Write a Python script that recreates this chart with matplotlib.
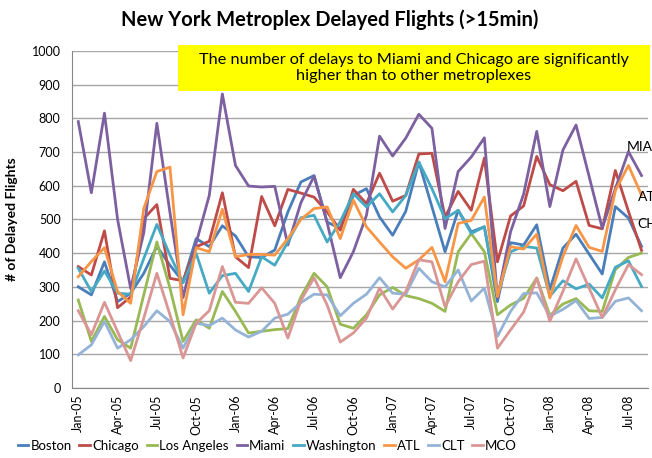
import matplotlib
matplotlib.use("Agg")
import matplotlib.pyplot as plt
from matplotlib.patches import Rectangle
import numpy as np

plt.rcParams['font.family'] = ['Lato', 'DejaVu Sans']

# monthly data, Jan-05 .. Aug-08
months = ['Jan', 'Feb', 'Mar', 'Apr', 'May', 'Jun', 'Jul', 'Aug', 'Sep', 'Oct', 'Nov', 'Dec']
labels = [m + '-' + y for y in ['05', '06', '07', '08'] for m in months][:44]

boston = [300, 276, 374, 256, 281, 340, 420, 364, 315, 443, 419, 481, 451, 389, 387, 409,
          522, 611, 630, 492, 473, 571, 591, 507, 453, 524, 670, 537, 404, 527, 463, 478,
          256, 431, 424, 484, 292, 415, 456, 397, 338, 538, 504, 420]
chicago = [360, 335, 466, 238, 270, 502, 544, 325, 318, 419, 435, 579, 389, 357, 568, 481,
           589, 578, 566, 522, 468, 589, 547, 637, 554, 571, 694, 696, 507, 583, 527, 682,
           374, 510, 540, 687, 603, 585, 613, 482, 472, 645, 524, 408]
los_angeles = [261, 138, 212, 143, 118, 276, 433, 296, 138, 202, 177, 286, 227, 163, 168, 173,
               176, 270, 340, 300, 189, 177, 217, 276, 298, 274, 265, 251, 227, 404, 458, 404,
               217, 246, 266, 326, 215, 249, 265, 229, 227, 351, 387, 400]
miami = [790, 579, 815, 500, 295, 460, 785, 520, 268, 430, 571, 872, 660, 599, 596, 598,
         424, 550, 628, 490, 327, 404, 512, 747, 688, 741, 812, 770, 473, 642, 685, 742,
         266, 463, 575, 761, 538, 706, 780, 627, 474, 591, 701, 630]
washington = [355, 286, 347, 281, 278, 384, 485, 394, 312, 399, 281, 333, 340, 286, 389, 364,
              433, 505, 512, 433, 493, 576, 537, 576, 522, 571, 670, 591, 502, 527, 458, 478,
              276, 404, 420, 415, 272, 318, 294, 308, 267, 358, 377, 301]
atl = [330, 375, 416, 286, 251, 532, 642, 655, 217, 416, 404, 530, 389, 396, 396, 394,
       443, 500, 532, 537, 443, 557, 478, 433, 389, 355, 380, 417, 315, 488, 497, 566,
       271, 419, 412, 456, 267, 390, 482, 417, 405, 585, 660, 572]
clt = [98, 128, 197, 118, 143, 182, 229, 197, 118, 192, 185, 207, 172, 151, 168, 207,
       219, 253, 278, 276, 214, 251, 278, 327, 281, 278, 355, 315, 300, 350, 258, 296,
       153, 227, 280, 282, 213, 233, 259, 206, 209, 257, 267, 229]
mco = [229, 158, 254, 167, 81, 207, 340, 217, 89, 192, 229, 360, 254, 251, 297, 251,
       148, 260, 327, 246, 136, 163, 207, 296, 234, 286, 380, 374, 241, 315, 366, 376,
       118, 172, 225, 326, 198, 287, 383, 296, 209, 291, 366, 336]

series = [('Boston', boston, '#4A7EBB'),
          ('Chicago', chicago, '#BE4B48'),
          ('Los Angeles', los_angeles, '#98B954'),
          ('Miami', miami, '#7D60A0'),
          ('Washington', washington, '#46AAC5'),
          ('ATL', atl, '#F79646'),
          ('CLT', clt, '#95B3D7'),
          ('MCO', mco, '#D99694')]

fig = plt.figure(figsize=(6.52, 4.58), dpi=100)
ax = fig.add_axes([0.110, 0.153, 0.884, 0.736])

x = np.arange(len(labels))
for name, vals, col in series:
    ax.plot(x, vals, color=col, lw=2, label=name)

ax.set_xlim(-0.5, len(labels) - 0.5)
ax.set_ylim(0, 1000)
ax.set_yticks(range(0, 1001, 100))
ax.set_xticks(x[::3])
ax.set_xticklabels(labels[::3], rotation=90, fontsize=9)
ax.tick_params(axis='y', labelsize=9, length=0, pad=8)
ax.tick_params(axis='x', length=0, pad=5)
ax.grid(axis='y', color='#A6A6A6', lw=1)
ax.set_axisbelow(True)
for s in ['top', 'right']:
    ax.spines[s].set_visible(False)
for s in ['left', 'bottom']:
    ax.spines[s].set_color('#868686')

ax.set_ylabel('# of Delayed Flights', fontsize=10, fontweight='bold', labelpad=10)

# end-of-line labels (cut by the figure edge as in the original)
ax.text(41.9, 715, 'MIA', fontsize=10, va='center', clip_on=False)
ax.text(42.7, 567, 'ATL', fontsize=10, va='center', clip_on=False)
ax.text(42.7, 487, 'CHI', fontsize=10, va='center', clip_on=False)

fig.text(0.505, 0.958, 'New York Metroplex Delayed Flights (>15min)', ha='center', va='center',
         fontsize=14.5, fontweight='bold')

fig.patches.append(Rectangle((0.273, 0.801), 0.724, 0.100, transform=fig.transFigure,
                             facecolor='#FFFF00', edgecolor='none', zorder=2))
fig.text(0.635, 0.851, 'The number of delays to Miami and Chicago are significantly\nhigher than to other metroplexes',
         ha='center', va='center', fontsize=11.7, zorder=3, linespacing=1.2)

fig.legend(loc='lower center', bbox_to_anchor=(0.41, -0.01), ncol=8, frameon=False,
           fontsize=9.5, handlelength=0.8, handletextpad=0.15, columnspacing=0.6,
           borderpad=0.3)

fig.savefig('out.png', dpi=100)
